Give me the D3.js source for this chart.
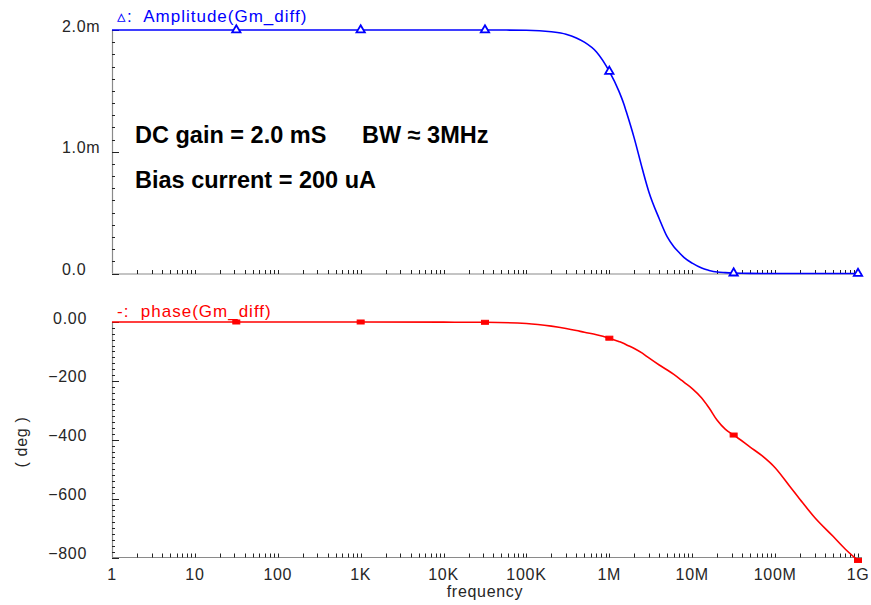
<!DOCTYPE html>
<html>
<head>
<meta charset="utf-8">
<script src="https://cdn.jsdelivr.net/npm/d3@7/dist/d3.min.js"></script>
<style>
  html, body { margin: 0; padding: 0; background: #fff; }
  svg { display: block; }
  .tick-label { font-family: "Liberation Sans", Arial, sans-serif; font-size: 16px; letter-spacing: 0.7px; fill: #262626; }
  .legend { font-family: "Liberation Sans", Arial, sans-serif; font-size: 17px; letter-spacing: 1px; white-space: pre; }
  .note { font-family: "Liberation Sans", Arial, sans-serif; font-weight: bold; font-size: 23.5px; fill: #000; }
</style>
</head>
<body>
<svg id="chart" width="871" height="605"></svg>
<script>
// Frequency sweep (Hz) and the two traces of the Gm cell
const freqHz = [1, 10, 31.6, 100, 1e3, 1e4, 3.16e4, 1e5, 2e5, 3e5, 4e5, 5e5, 7e5, 1e6, 1.3e6, 1.5e6, 1.6e6, 2e6, 2.5e6, 3e6, 4e6, 5e6, 6e6, 7e6, 8e6, 1e7, 1.3e7, 1.5e7, 1.6e7, 2e7, 2.5e7, 3e7, 3.16e7, 5e7, 7e7, 1e8, 1.5e8, 2e8, 3e8, 5e8, 7e8, 1e9];
// |Gm_diff| in mS
const amplitudeMS = [2.0, 2.0, 2.0, 2.0, 2.0, 2.0, 2.0, 1.998, 1.985, 1.965, 1.935, 1.90, 1.82, 1.66, 1.50, 1.39, 1.33, 1.11, 0.86, 0.67, 0.45, 0.30, 0.22, 0.17, 0.13, 0.085, 0.045, 0.03, 0.025, 0.012, 0.007, 0.004, 0.0035, 0.001, 0.0006, 0.0003, 0.0002, 0.0001, 0.0001, 0.0, 0.0, 0.0];
// phase(Gm_diff) in degrees
const phaseDeg = [0, 0, 0, 0, 0, -0.5, -1, -5, -14, -22, -29, -35, -43, -55, -66, -73, -77, -90, -106, -122, -146, -163, -178, -192, -205, -226, -258, -281, -292, -334, -364, -380, -384, -425, -455, -495, -558, -603, -664, -728, -771, -810];

// Sweep points carrying a marker on each trace
const markerHz = [31.6, 1e3, 3.16e4, 1e6, 3.16e7, 1e9];

// Axis labels
const xTickLabels = ["1", "10", "100", "1K", "10K", "100K", "1M", "10M", "100M", "1G"];
const ampTickValues = [0, 1.0, 2.0];
const ampTickLabels = ["0.0", "1.0m", "2.0m"];
const phaseTickValues = [0, -200, -400, -600, -800];
const phaseTickLabels = ["0.00", "\u2212200", "\u2212400", "\u2212600", "\u2212800"];

const svg = d3.select("#chart");

const left = 112, right = 858;
const x = d3.scaleLog().domain([1, 1e9]).range([left, right]);
const yAmp = d3.scaleLinear().domain([0, 2.0]).range([273.5, 30]);
const yPh = d3.scaleLinear().domain([-800, 0]).range([557.5, 322]);

const decades = d3.range(0, 10).map(k => Math.pow(10, k));
const minorX = [];
decades.slice(0, 9).forEach(d => { for (let m = 1; m <= 9; m++) minorX.push(d * m); });
minorX.push(1e9);

function drawXAxis(yPos) {
  const g = svg.append("g").attr("transform", `translate(0,${yPos})`);
  g.append("line").attr("x1", left).attr("x2", 862).attr("y1", 0).attr("y2", 0)
    .attr("stroke", "#8a8a8a").attr("stroke-width", 1.2);
  g.selectAll("line.t").data(minorX.filter(v => v > 1)).join("line")
    .attr("class", "t")
    .attr("x1", d => Math.round(x(d)) + 0.5).attr("x2", d => Math.round(x(d)) + 0.5)
    .attr("y1", 0).attr("y2", -4).attr("stroke", "#222").attr("stroke-width", 1);
  return g;
}

function drawYAxis(scale, y0, y1, minorStep, majorVals) {
  const g = svg.append("g");
  g.append("line").attr("x1", left + 0.5).attr("x2", left + 0.5)
    .attr("y1", scale(y1)).attr("y2", scale(y0))
    .attr("stroke", "#8a8a8a").attr("stroke-width", 1.2);
  const n = Math.round((y1 - y0) / minorStep);
  const vals = d3.range(0, n + 1).map(i => y0 + i * minorStep);
  g.selectAll("line.t").data(vals).join("line")
    .attr("class", "t")
    .attr("x1", left).attr("x2", d => left + (majorVals.some(m => Math.abs(m - d) < 1e-9) ? 7 : 3))
    .attr("y1", d => Math.round(scale(d)) + 0.5).attr("y2", d => Math.round(scale(d)) + 0.5)
    .attr("stroke", "#222").attr("stroke-width", 1);
  return g;
}

// ---- Amplitude panel ----
drawXAxis(274);
drawYAxis(yAmp, 0, 2.0, 0.1, ampTickValues);
svg.append("g").selectAll("text").data(ampTickValues).join("text")
  .attr("class", "tick-label")
  .attr("x", 62).attr("y", d => yAmp(d) - 4)
  .attr("dy", "0.35em")
  .text((d, i) => ampTickLabels[i]);

const ampPts = freqHz.map((f, i) => [f, amplitudeMS[i]]);
svg.append("path").datum(ampPts)
  .attr("fill", "none").attr("stroke", "#0000ff").attr("stroke-width", 1.6)
  .attr("d", d3.line().x(d => x(d[0])).y(d => yAmp(d[1])).curve(d3.curveMonotoneX));

const tri = d3.symbol().type(d3.symbolTriangle).size(30);
svg.append("g").selectAll("path").data(markerHz).join("path")
  .attr("transform", f => `translate(${x(f)},${yAmp(amplitudeMS[freqHz.indexOf(f)])})`)
  .attr("d", tri).attr("fill", "#fff").attr("stroke", "#0000ff").attr("stroke-width", 1.8);

svg.append("text").attr("x", 117).attr("y", 22)
  .attr("class", "legend").style("fill", "#0000ff")
  .text("\u25B5:  Amplitude(Gm_diff)");

// ---- Phase panel ----
drawXAxis(557.5);
drawYAxis(yPh, -800, 0, 20, phaseTickValues);
svg.append("g").selectAll("text").data(phaseTickValues).join("text")
  .attr("class", "tick-label")
  .attr("x", 87).attr("y", d => yPh(d) - 4)
  .attr("dy", "0.35em").attr("text-anchor", "end")
  .text((d, i) => phaseTickLabels[i]);

const phPts = freqHz.map((f, i) => [f, phaseDeg[i]]);
svg.append("path").datum(phPts)
  .attr("fill", "none").attr("stroke", "#ff0000").attr("stroke-width", 1.6)
  .attr("d", d3.line().x(d => x(d[0])).y(d => yPh(d[1])).curve(d3.curveMonotoneX));

svg.append("g").selectAll("rect").data(markerHz).join("rect")
  .attr("x", f => x(f) - 3.5).attr("y", f => yPh(phaseDeg[freqHz.indexOf(f)]) - 2)
  .attr("width", 7).attr("height", 4)
  .attr("fill", "#ff0000").attr("stroke", "#ff0000").attr("stroke-width", 1);

svg.append("text").attr("x", 117).attr("y", 317)
  .attr("class", "legend").style("fill", "#ff0000")
  .text("-:  phase(Gm_diff)");

svg.append("g").selectAll("text").data(decades).join("text")
  .attr("class", "tick-label")
  .attr("x", d => x(d)).attr("y", 580)
  .attr("text-anchor", "middle")
  .text((d, i) => xTickLabels[i]);

svg.append("text").attr("class", "tick-label")
  .attr("x", 485).attr("y", 597).attr("text-anchor", "middle")
  .text("frequency");

svg.append("text").attr("class", "tick-label")
  .attr("transform", "translate(27,442) rotate(-90)")
  .attr("text-anchor", "middle")
  .text("( deg )");

// ---- Annotations ----
svg.append("text").attr("class", "note").attr("x", 135).attr("y", 143).text("DC gain = 2.0 mS");
svg.append("text").attr("class", "note").attr("x", 362).attr("y", 143).text("BW \u2248 3MHz");
svg.append("text").attr("class", "note").attr("x", 135).attr("y", 188).text("Bias current = 200 uA");
</script>
</body>
</html>
